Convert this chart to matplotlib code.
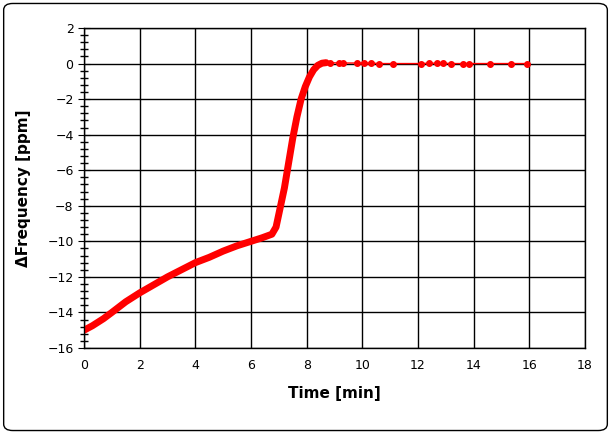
import numpy as np
import matplotlib.pyplot as plt
import matplotlib.ticker as tkr
from matplotlib.patches import FancyBboxPatch

# dense part of the curve
curve_t = [0.0, 0.3, 0.7, 1.0, 1.5, 2.0, 2.5, 3.0, 3.5, 4.0, 4.5, 5.0, 5.5, 6.0, 6.4,
           6.75, 6.9, 7.05, 7.2, 7.35, 7.5, 7.65, 7.8, 7.95, 8.1, 8.25, 8.4, 8.55, 8.7]
curve_f = [-15.0, -14.75, -14.35, -14.0, -13.4, -12.9, -12.45, -12.0, -11.6, -11.2, -10.9,
           -10.55, -10.25, -10.0, -9.8, -9.6, -9.2, -8.1, -7.0, -5.6, -4.2, -3.0, -2.0,
           -1.3, -0.75, -0.35, -0.1, 0.02, 0.05]

# sparse points after stabilisation
flat_t = [8.85, 9.15, 9.3, 9.8, 10.05, 10.3, 10.6, 11.1, 12.1, 12.4, 12.7, 12.9,
          13.2, 13.6, 13.85, 14.6, 15.35, 15.9]
flat_f = [0.05, 0.03, 0.03, 0.03, 0.03, 0.03, 0.0, 0.0, 0.0, 0.02, 0.02, 0.02,
          0.0, 0.0, 0.0, 0.0, 0.0, 0.0]

fig = plt.figure(figsize=(6.11, 4.34), dpi=100)
fig.patches.append(FancyBboxPatch((0.006, 0.008), 0.988, 0.984, boxstyle="round,pad=0,rounding_size=0.015",
                                  transform=fig.transFigure, fill=False, ec='black', lw=1))
ax = fig.add_axes([84 / 611, 1 - 348 / 434, 501 / 611, 320 / 434])

ax.plot(curve_t + flat_t, curve_f + flat_f, color='red', lw=1)
ax.plot(curve_t, curve_f, color='red', lw=5, solid_capstyle='round')
ax.plot(flat_t, flat_f, 'o', color='red', ms=4)

ax.set_xlim(0, 18)
ax.set_ylim(-16, 2)
ax.xaxis.set_major_locator(tkr.MultipleLocator(2))
ax.yaxis.set_major_locator(tkr.MultipleLocator(2))
ax.yaxis.set_minor_locator(tkr.MultipleLocator(0.4))
ax.grid(True, which='major', color='black', lw=1)
ax.tick_params(axis='y', which='minor', direction='inout', length=6, width=1)
ax.tick_params(axis='y', which='major', direction='inout', length=8)
ax.tick_params(axis='x', which='major', length=0, pad=8)
ax.tick_params(labelsize=9)
for s in ax.spines.values():
    s.set_linewidth(1)
ax.set_xlabel("Time [min]", fontsize=11, fontweight='bold', labelpad=10)
ax.set_ylabel("ΔFrequency [ppm]", fontsize=11, fontweight='bold', labelpad=12)
fig.savefig("out.png", dpi=100)
